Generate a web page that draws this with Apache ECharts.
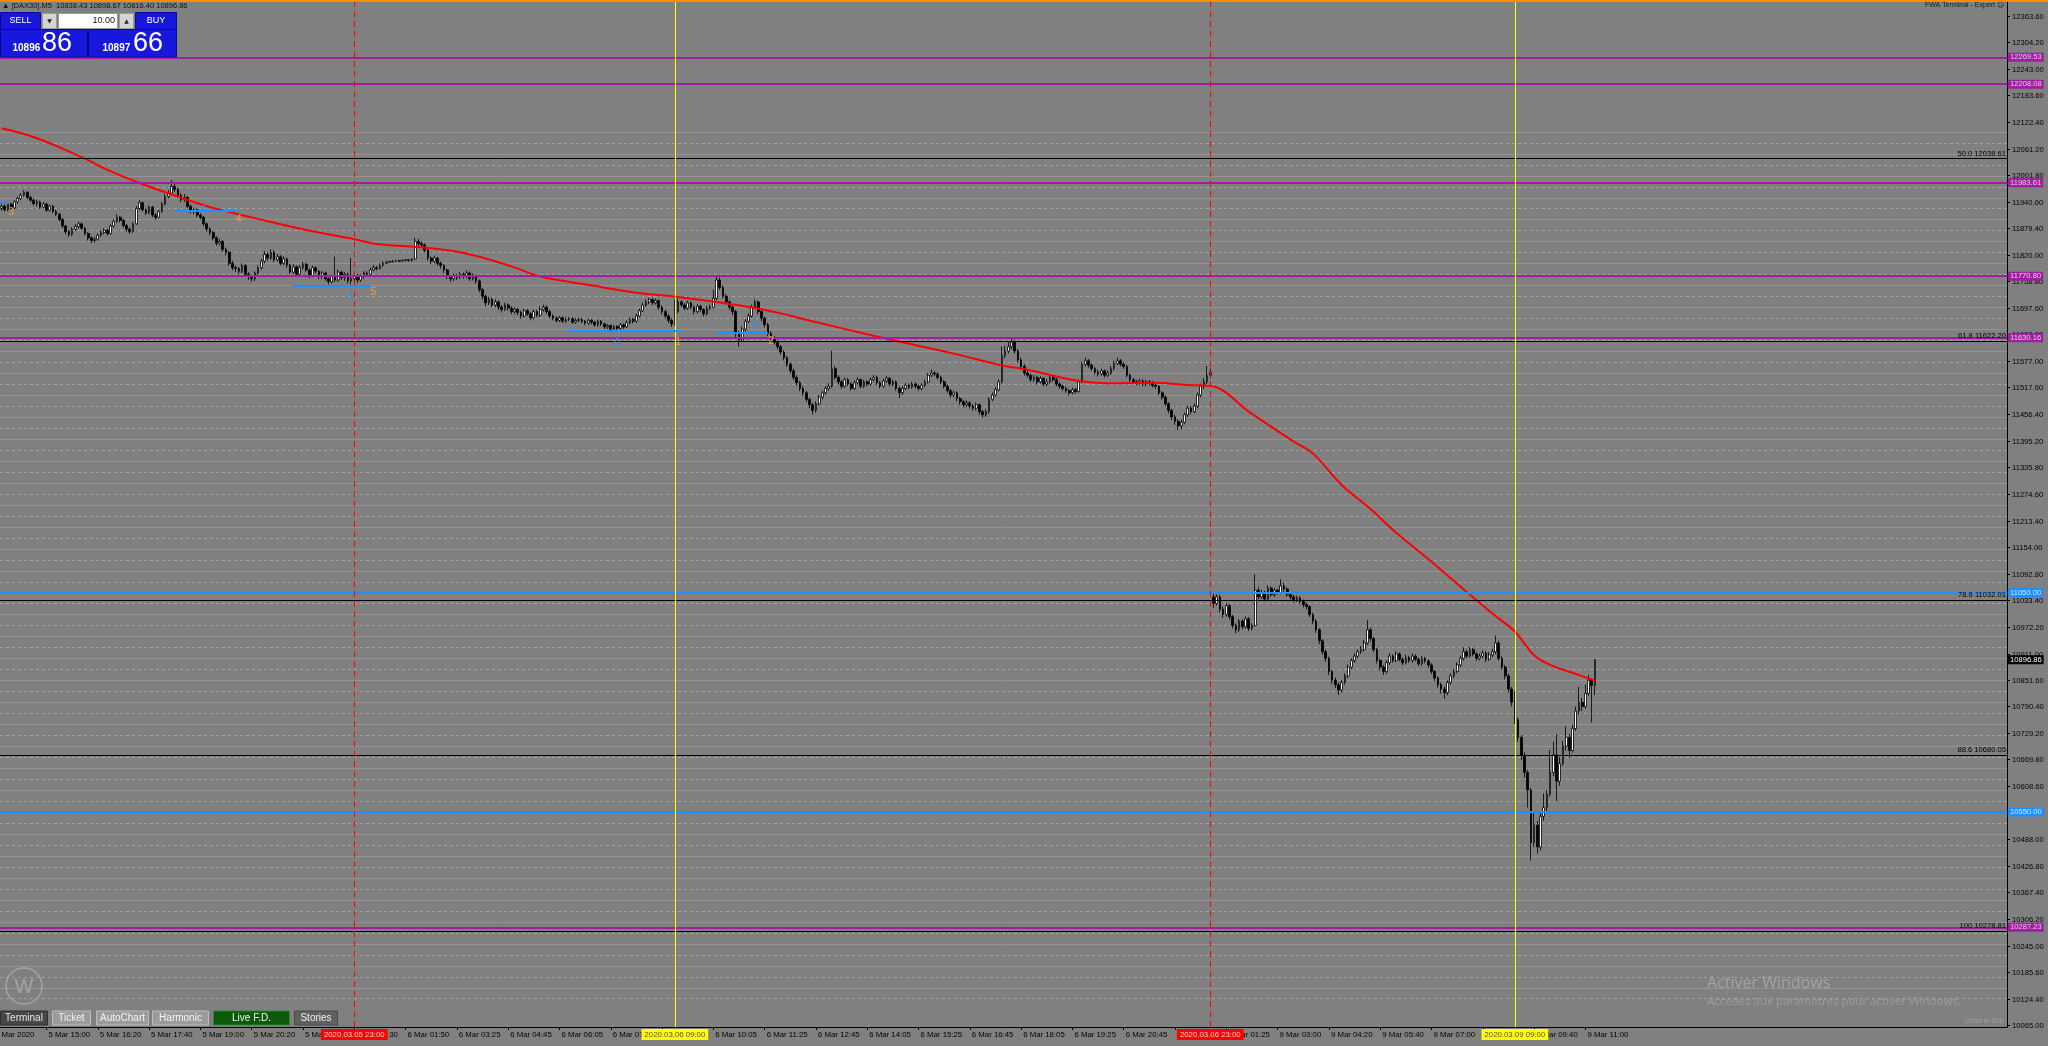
<!DOCTYPE html>
<html><head><meta charset="utf-8">
<style>html,body{margin:0;padding:0;background:#808080;overflow:hidden}#c{width:2048px;height:1046px}</style>
<script src="https://cdn.jsdelivr.net/npm/echarts/dist/echarts.min.js"></script>
</head><body><div id="c"></div><script>
// ---- DATA ----
const timeLabels = ["5 Mar 15:00","5 Mar 16:20","5 Mar 17:40","5 Mar 19:00","5 Mar 20:20","5 Mar 21:40","6 Mar 00:30","6 Mar 01:50","6 Mar 03:25","6 Mar 04:45","6 Mar 06:05","6 Mar 07:25","6 Mar 08:45","6 Mar 10:05","6 Mar 11:25","6 Mar 12:45","6 Mar 14:05","6 Mar 15:25","6 Mar 16:45","6 Mar 18:05","6 Mar 19:25","6 Mar 20:45","6 Mar 22:05","9 Mar 01:25","9 Mar 03:00","9 Mar 04:20","9 Mar 05:40","9 Mar 07:00","9 Mar 08:20","9 Mar 09:40","9 Mar 11:00"];
const priceTicks = [12363.60,12304.20,12243.00,12183.60,12122.40,12061.20,12001.80,11940.60,11879.40,11820.00,11758.80,11697.60,11638.20,11577.00,11517.60,11456.40,11395.20,11335.80,11274.60,11213.40,11154.00,11092.80,11033.40,10972.20,10911.00,10851.60,10790.40,10729.20,10669.80,10608.60,10549.20,10488.00,10426.80,10367.40,10306.20,10245.00,10185.60,10124.40,10065.00];
const opens = [11925,11930,11922,11935,11926,11940,11948,11955,11962,11950,
11944,11936,11940,11928,11935,11921,11930,11918,11912,11900,
11885,11872,11866,11878,11884,11890,11880,11868,11858,11852,
11855,11864,11870,11875,11868,11885,11896,11905,11898,11886,
11878,11872,11890,11925,11938,11922,11915,11928,11910,11905,
11918,11935,11952,11960,11975,11968,11955,11945,11950,11930,
11918,11922,11910,11905,11890,11878,11870,11858,11846,11850,
11832,11825,11800,11790,11788,11782,11795,11775,11770,11765,
11778,11790,11805,11820,11812,11825,11808,11815,11800,11810,
11796,11780,11792,11775,11790,11798,11785,11772,11790,11782,
11770,11778,11765,11758,11770,11762,11780,11768,11775,11760,
11765,11772,11762,11770,11778,11775,11785,11790,11788,11795,
11800,11803,11804,11805,11806,11805,11807,11808,11806,11810,
11850,11845,11842,11830,11812,11805,11812,11800,11795,11785,
11770,11765,11772,11768,11775,11770,11778,11765,11772,11760,
11740,11725,11710,11718,11705,11712,11700,11695,11705,11698,
11690,11695,11688,11680,11692,11685,11676,11690,11682,11695,
11700,11690,11680,11675,11670,11676,11668,11672,11674,11666,
11670,11672,11668,11664,11670,11666,11660,11668,11662,11655,
11658,11650,11656,11652,11660,11655,11665,11672,11668,11680,
11692,11705,11712,11718,11710,11715,11700,11690,11680,11670,
11662,11690,11712,11705,11698,11710,11700,11690,11702,11695,
11685,11698,11700,11720,11762,11745,11725,11712,11700,11690,
11640,11625,11650,11668,11680,11700,11712,11690,11675,11660,
11640,11630,11620,11610,11598,11585,11570,11555,11540,11528,
11515,11505,11490,11478,11465,11480,11495,11505,11515,11520,
11560,11540,11530,11520,11535,11525,11515,11528,11535,11520,
11530,11525,11535,11540,11528,11520,11532,11538,11525,11530,
11515,11505,11515,11522,11518,11525,11520,11515,11522,11530,
11545,11550,11548,11540,11530,11520,11510,11500,11505,11492,
11485,11478,11482,11475,11470,11478,11462,11455,11462,11490,
11500,11512,11530,11590,11600,11610,11620,11600,11580,11565,
11550,11545,11535,11540,11530,11538,11525,11530,11540,11535,
11525,11520,11515,11510,11505,11512,11508,11530,11570,11578,
11568,11560,11552,11548,11555,11545,11550,11560,11572,11578,
11570,11565,11545,11535,11530,11528,11532,11525,11530,11528,
11522,11520,11505,11495,11480,11465,11450,11440,11430,11438,
11455,11470,11462,11475,11500,11520,11530,11545,11040,11025,
11040,11012,11000,11020,10995,10975,10965,10985,10972,10990,
10968,10975,11055,11040,11050,11035,11060,11045,11055,11050,
11065,11058,11045,11040,11032,11038,11030,11022,11018,11000,
10985,10965,10940,10915,10900,10870,10850,10840,10828,10845,
10860,10880,10895,10905,10915,10920,10935,10965,10945,10920,
10895,10880,10870,10890,10905,10895,10910,10898,10890,10902,
10895,10905,10898,10888,10900,10894,10885,10870,10855,10840,
10830,10822,10845,10860,10870,10885,10900,10915,10905,10920,
10910,10900,10905,10912,10898,10908,10915,10935,10900,10880,
10860,10830,10800,10760,10720,10680,10640,10600,10480,10520,
10470,10540,10560,10590,10640,10680,10620,10660,10700,10720,
10690,10740,10780,10800,10790,10820,10850,10838.43];
const closes = [11930,11922,11935,11926,11940,11948,11955,11962,11950,11944,
11936,11940,11928,11935,11921,11930,11918,11912,11900,11885,
11872,11866,11878,11884,11890,11880,11868,11858,11852,11855,
11864,11870,11875,11868,11885,11896,11905,11898,11886,11878,
11872,11890,11925,11938,11922,11915,11928,11910,11905,11918,
11935,11952,11960,11975,11968,11955,11945,11950,11930,11918,
11922,11910,11905,11890,11878,11870,11858,11846,11850,11832,
11825,11800,11790,11788,11782,11795,11775,11770,11765,11778,
11790,11805,11820,11812,11825,11808,11815,11800,11810,11796,
11780,11792,11775,11790,11798,11785,11772,11790,11782,11770,
11778,11765,11758,11770,11762,11780,11768,11775,11760,11765,
11772,11762,11770,11778,11775,11785,11790,11788,11795,11800,
11803,11804,11805,11806,11805,11807,11808,11806,11810,11850,
11845,11842,11830,11812,11805,11812,11800,11795,11785,11770,
11765,11772,11768,11775,11770,11778,11765,11772,11760,11740,
11725,11710,11718,11705,11712,11700,11695,11705,11698,11690,
11695,11688,11680,11692,11685,11676,11690,11682,11695,11700,
11690,11680,11675,11670,11676,11668,11672,11674,11666,11670,
11672,11668,11664,11670,11666,11660,11668,11662,11655,11658,
11650,11656,11652,11660,11655,11665,11672,11668,11680,11692,
11705,11712,11718,11710,11715,11700,11690,11680,11670,11662,
11690,11712,11705,11698,11710,11700,11690,11702,11695,11685,
11698,11700,11720,11762,11745,11725,11712,11700,11690,11640,
11625,11650,11668,11680,11700,11712,11690,11675,11660,11640,
11630,11620,11610,11598,11585,11570,11555,11540,11528,11515,
11505,11490,11478,11465,11480,11495,11505,11515,11520,11560,
11540,11530,11520,11535,11525,11515,11528,11535,11520,11530,
11525,11535,11540,11528,11520,11532,11538,11525,11530,11515,
11505,11515,11522,11518,11525,11520,11515,11522,11530,11545,
11550,11548,11540,11530,11520,11510,11500,11505,11492,11485,
11478,11482,11475,11470,11478,11462,11455,11462,11490,11500,
11512,11530,11590,11600,11610,11620,11600,11580,11565,11550,
11545,11535,11540,11530,11538,11525,11530,11540,11535,11525,
11520,11515,11510,11505,11512,11508,11530,11570,11578,11568,
11560,11552,11548,11555,11545,11550,11560,11572,11578,11570,
11565,11545,11535,11530,11528,11532,11525,11530,11528,11522,
11520,11505,11495,11480,11465,11450,11440,11430,11438,11455,
11470,11462,11475,11500,11520,11530,11545,11552,11025,11040,
11012,11000,11020,10995,10975,10965,10985,10972,10990,10968,
10975,11055,11040,11050,11035,11060,11045,11055,11050,11065,
11058,11045,11040,11032,11038,11030,11022,11018,11000,10985,
10965,10940,10915,10900,10870,10850,10840,10828,10845,10860,
10880,10895,10905,10915,10920,10935,10965,10945,10920,10895,
10880,10870,10890,10905,10895,10910,10898,10890,10902,10895,
10905,10898,10888,10900,10894,10885,10870,10855,10840,10830,
10822,10845,10860,10870,10885,10900,10915,10905,10920,10910,
10900,10905,10912,10898,10908,10915,10935,10900,10880,10860,
10830,10800,10760,10720,10680,10640,10600,10480,10520,10470,
10540,10560,10590,10640,10680,10620,10660,10700,10720,10690,
10740,10780,10800,10790,10820,10850,10838,10896.86];
const highs = [11936,11934,11940,11938,11944,11952,11960,11966,11964,11954,
11948,11945,11943,11940,11938,11934,11933,11922,11915,11903,
11888,11876,11882,11889,11895,11893,11883,11871,11862,11860,
11868,11875,11880,11879,11889,11900,11912,11908,11901,11890,
11882,11894,11930,11944,11941,11926,11932,11931,11914,11922,
11940,11958,11967,11990,11985,11972,11960,11958,11953,11934,
11927,11925,11914,11908,11893,11882,11874,11862,11856,11853,
11836,11828,11806,11795,11792,11800,11798,11780,11774,11782,
11795,11810,11828,11825,11832,11829,11822,11819,11816,11813,
11799,11798,11795,11796,11803,11801,11788,11795,11793,11785,
11783,11781,11768,11775,11815,11786,11783,11780,11779,11812,
11778,11776,11775,11782,11782,11790,11796,11794,11800,11805,
11806,11806,11807,11808,11808,11809,11810,11810,11812,11858,
11856,11850,11846,11834,11816,11818,11815,11804,11798,11788,
11774,11777,11776,11780,11779,11784,11781,11777,11775,11763,
11744,11729,11724,11722,11718,11716,11705,11710,11709,11702,
11700,11699,11692,11697,11696,11689,11695,11694,11702,11706,
11704,11694,11684,11679,11680,11679,11677,11678,11677,11675,
11676,11676,11671,11674,11673,11669,11672,11671,11665,11662,
11661,11660,11659,11664,11663,11670,11677,11676,11685,11697,
11711,11718,11722,11721,11720,11718,11704,11694,11684,11675,
11718,11720,11716,11709,11715,11713,11704,11707,11706,11698,
11703,11706,11740,11772,11768,11750,11730,11716,11704,11694,
11645,11656,11673,11686,11706,11718,11716,11694,11679,11664,
11645,11634,11625,11614,11602,11589,11574,11560,11545,11532,
11520,11509,11494,11482,11486,11500,11510,11520,11527,11601,
11566,11545,11534,11540,11539,11529,11533,11540,11538,11535,
11534,11540,11546,11544,11532,11537,11544,11541,11535,11533,
11519,11520,11527,11526,11530,11529,11524,11527,11535,11550,
11558,11555,11552,11544,11534,11524,11514,11510,11508,11496,
11489,11488,11486,11479,11483,11481,11466,11468,11495,11506,
11518,11536,11610,11612,11620,11632,11625,11605,11585,11570,
11556,11549,11546,11544,11543,11541,11536,11546,11545,11539,
11529,11524,11519,11514,11517,11516,11535,11576,11585,11582,
11572,11564,11557,11560,11558,11556,11566,11578,11585,11582,
11575,11568,11549,11539,11534,11537,11536,11535,11534,11532,
11526,11523,11509,11499,11484,11469,11455,11445,11444,11460,
11476,11475,11481,11506,11526,11538,11566,11560,11048,11046,
11045,11018,11026,11024,10999,10980,10990,10989,10995,10994,
10980,11092,11062,11056,11054,11066,11064,11060,11059,11080,
11072,11062,11050,11044,11043,11042,11034,11027,11021,11004,
10989,10969,10944,10920,10904,10874,10856,10845,10851,10866,
10886,10900,10911,10920,10928,10942,10988,10970,10949,10924,
10899,10885,10896,10912,10909,10916,10914,10902,10908,10906,
10911,10909,10902,10906,10904,10898,10889,10874,10859,10845,
10836,10850,10866,10876,10891,10906,10925,10920,10926,10924,
10914,10911,10918,10916,10914,10922,10952,10940,10905,10885,
10865,10835,10826,10765,10725,10686,10645,10605,10548,10530,
10552,10592,10600,10691,10710,10727,10675,10712,10745,10728,
10748,10790,10835,10810,10840,10862,10855,10898.67];
const lows = [11920,11918,11919,11922,11924,11936,11944,11952,11946,11940,
11932,11930,11924,11925,11917,11918,11914,11908,11896,11880,
11866,11860,11862,11874,11880,11876,11864,11852,11846,11847,
11851,11860,11866,11863,11865,11881,11892,11893,11882,11872,
11867,11869,11888,11921,11918,11910,11912,11905,11899,11902,
11915,11932,11948,11956,11962,11950,11940,11940,11925,11914,
11912,11905,11900,11885,11872,11864,11852,11840,11841,11826,
11818,11794,11784,11780,11776,11778,11770,11762,11758,11760,
11774,11786,11800,11806,11808,11803,11804,11795,11796,11790,
11775,11776,11770,11771,11786,11780,11766,11768,11777,11764,
11765,11760,11752,11754,11757,11758,11762,11760,11754,11752,
11758,11755,11758,11765,11770,11772,11782,11784,11786,11792,
11798,11801,11802,11803,11803,11804,11805,11804,11804,11808,
11840,11836,11825,11806,11798,11800,11795,11788,11778,11764,
11758,11760,11762,11764,11765,11766,11760,11761,11754,11734,
11718,11702,11705,11700,11700,11694,11688,11691,11692,11684,
11685,11682,11674,11676,11680,11670,11672,11677,11678,11690,
11685,11675,11670,11665,11666,11664,11664,11668,11662,11662,
11666,11664,11659,11660,11661,11655,11656,11657,11650,11650,
11645,11646,11647,11648,11650,11652,11661,11663,11665,11677,
11689,11701,11707,11704,11706,11694,11684,11674,11664,11655,
11658,11686,11700,11693,11694,11695,11684,11686,11689,11679,
11681,11693,11697,11716,11740,11720,11706,11694,11682,11630,
11610,11620,11645,11664,11676,11696,11684,11668,11654,11634,
11624,11614,11604,11592,11579,11564,11549,11534,11522,11509,
11498,11484,11470,11456,11460,11476,11490,11500,11510,11516,
11535,11524,11514,11516,11520,11510,11511,11524,11515,11516,
11520,11521,11531,11523,11515,11516,11528,11520,11520,11510,
11493,11500,11511,11513,11514,11515,11510,11511,11518,11526,
11541,11543,11535,11525,11515,11505,11494,11495,11486,11478,
11472,11472,11469,11464,11465,11455,11448,11450,11458,11486,
11496,11508,11526,11584,11595,11604,11594,11574,11558,11544,
11540,11530,11530,11524,11526,11520,11520,11526,11530,11520,
11514,11510,11505,11499,11501,11503,11505,11527,11565,11562,
11555,11547,11542,11544,11540,11541,11546,11556,11568,11565,
11560,11540,11530,11525,11522,11523,11520,11520,11522,11517,
11514,11500,11489,11474,11458,11443,11432,11420,11422,11433,
11450,11456,11458,11470,11495,11514,11525,11538,11015,11020,
11005,10992,10995,10988,10968,10957,10960,10966,10968,10962,
10963,10972,11034,11035,11030,11031,11040,11040,11045,11046,
11052,11040,11034,11027,11028,11024,11016,11012,10994,10978,
10958,10932,10908,10892,10862,10842,10832,10817,10822,10840,
10855,10875,10890,10900,10910,10915,10930,10938,10914,10888,
10872,10862,10865,10885,10890,10891,10893,10884,10886,10890,
10890,10893,10882,10884,10889,10879,10864,10848,10833,10820,
10808,10816,10840,10855,10866,10880,10895,10900,10901,10905,
10894,10895,10900,10892,10894,10903,10910,10895,10874,10852,
10822,10790,10750,10710,10668,10628,10560,10439,10470,10455,
10462,10530,10552,10585,10632,10574,10610,10655,10690,10673,
10685,10735,10772,10780,10785,10815,10754,10816.40];
// moving average, read at sample bars: [bar index, value]
const maPoints = [[0,12108],[10,12088],[20,12058],[27,12035],[33,12013],[43,11983],[55,11952],[66,11926],[79,11903],[95,11876],[110,11855],[117,11844],[130,11837],[140,11829],[149,11815],[159,11793],[168,11770],[183,11751],[198,11733],[210,11724],[222,11713],[235,11698],[243,11686],[249,11675],[276,11628],[296,11596],[311,11569],[321,11556],[335,11533],[345,11527],[360,11528],[370,11523],[377,11521],[390,11457],[403,11394],[409,11367],[418,11295],[427,11240],[435,11186],[447,11114],[457,11051],[465,11002],[472,10961],[478,10907],[483,10885],[490,10867],[497,10849]];
const purpleLevels = [12269.53,12208.08,11983.61,11770.80,11630.16,10287.23];
const blueLevels = [11050.00,10550.00];
const fibLevels = [["50.0",12038.61],["61.8",11622.20],["78.6",11032.01],["88.6",10680.05],["100",10278.81]];
const lastPrice = 10896.86;
const redVLines = [[110,"2020.03.05 23:00"],[377,"2020.03.06 23:00"]];
const yellowVLines = [[210,"2020.03.06 09:00"],[472,"2020.03.09 09:00"]];
const patternSegs = [[0,2,11937],[54,74,11920],[91,115,11749],[176,212,11647],[223,239,11642]];
const patternTexts = [[3,11917,"3","o"],[63,11920,"0","b"],[74,11901,"4","o"],[109,11726,"1","b"],[116,11735,"5","o"],[192,11617,"0","b"],[211,11621,"1","o"],[235,11656,"0","b"],[240,11622,"2","o"]];
const gridFrom = 10125, gridTo = 12100, gridStep = 25;

// ---- STYLE / LAYOUT ----
const F = '"Liberation Sans", Arial, sans-serif';
const PURPLE = '#a01ea0', BLUE = '#1e90ff', ORANGE = '#ff9a2e';
const GRID_SOLID = '#949494', GRID_DASH = '#a2a2a2';
const N_CATS = 626, TICK0 = 14, TICKSTEP = 16;
const cats = Array.from({length: N_CATS}, (_, i) => i);
function tickIdx(i){ if (i < TICK0 || (i - TICK0) % TICKSTEP) return -1; const k = (i - TICK0) / TICKSTEP; return k < timeLabels.length ? k : -1; }

const candleData = closes.map((c, i) => {
  const o = opens[i];
  return [o, c, Math.min(lows[i], o, c), Math.max(highs[i], o, c)];
});
const gridLevels = [];
for (let v = gridFrom; v <= gridTo; v += gridStep) gridLevels.push([0, v]);

const mlData = [];
purpleLevels.forEach(v => mlData.push({yAxis: v, lineStyle: {color: PURPLE, width: 2, type: 'solid'},
  label: {show: true, position: 'end', distance: 1, formatter: v.toFixed(2), backgroundColor: PURPLE, color: '#f0c4f0', padding: [1, 2, 0, 2], fontSize: 7.6, fontFamily: F}}));
blueLevels.forEach(v => mlData.push({yAxis: v, lineStyle: {color: BLUE, width: 2, type: 'solid'},
  label: {show: true, position: 'end', distance: 1, formatter: v.toFixed(2), backgroundColor: BLUE, color: '#cfe8ff', padding: [1, 2, 0, 2], fontSize: 7.6, fontFamily: F}}));
fibLevels.forEach(([n, v]) => mlData.push({yAxis: v, lineStyle: {color: '#000', width: 1, type: 'solid'},
  label: {show: true, position: 'insideEndTop', distance: 1, formatter: n + ' ' + v.toFixed(2), color: '#000', fontSize: 7.6, fontFamily: F}}));
mlData.push({yAxis: lastPrice, lineStyle: {color: 'rgba(0,0,0,0)', width: 0},
  label: {show: true, position: 'end', distance: 1, formatter: lastPrice.toFixed(2), backgroundColor: '#000', color: '#fff', padding: [1, 2, 0, 2], fontSize: 7.6, fontFamily: F}});
redVLines.forEach(([i, t]) => mlData.push({xAxis: i, lineStyle: {color: '#ff0000', width: 1, type: [6, 4]},
  label: {show: true, position: 'start', distance: 2, formatter: t, backgroundColor: '#ff0000', color: '#ffd6d6', padding: [2, 3, 1, 3], fontSize: 7.8, fontFamily: F}}));
yellowVLines.forEach(([i, t]) => mlData.push({xAxis: i, lineStyle: {color: '#ffff00', width: 1, type: 'solid'},
  label: {show: true, position: 'start', distance: 2, formatter: t, backgroundColor: '#ffff00', color: '#505050', padding: [2, 3, 1, 3], fontSize: 7.8, fontFamily: F}}));
patternSegs.forEach(([a, b, p]) => mlData.push([
  {coord: [a, p], lineStyle: {color: BLUE, width: 2, type: 'solid'}, label: {show: false}},
  {coord: [b, p], lineStyle: {color: BLUE, width: 2, type: 'solid'}, label: {show: false}}]));

const mpData = patternTexts.map(([i, p, t, c]) => ({coord: [i, p], value: t, symbolSize: 0,
  label: {show: true, position: 'inside', formatter: t, color: c === 'o' ? ORANGE : BLUE, fontSize: 10, fontFamily: F}}));

const tab = (x, w, label, fill, stroke, color) => [
  {type: 'rect', z: 100, shape: {x: x, y: 1011, width: w, height: 14}, style: {fill: fill, stroke: stroke, lineWidth: 1}},
  {type: 'text', z: 101, x: x + w / 2, y: 1018.5, style: {text: label, fill: color, font: '10px ' + F, align: 'center', verticalAlign: 'middle'}}];

const PB = '#1818dc', PBD = '#0a0a8c';
const graphics = [
  {type: 'rect', z: 100, shape: {x: 0, y: 0, width: 2048, height: 2}, style: {fill: '#ff8c00'}},
  {type: 'text', z: 100, x: 2, y: 5.5, style: {text: '▲ [DAX30].M5  10838.43 10898.67 10816.40 10896.86', fill: '#111', font: '7.5px ' + F, verticalAlign: 'middle'}},
  {type: 'text', z: 100, x: 2004, y: 5, style: {text: 'FWA Terminal - Expert ☹', fill: '#1a1a1a', font: '7px ' + F, align: 'right', verticalAlign: 'middle'}},
  {type: 'rect', z: 100, shape: {x: 0.5, y: 12.5, width: 40, height: 17}, style: {fill: PB, stroke: PBD}},
  {type: 'text', z: 101, x: 20.5, y: 21, style: {text: 'SELL', fill: '#fff', font: '9px ' + F, align: 'center', verticalAlign: 'middle'}},
  {type: 'rect', z: 100, shape: {x: 42.5, y: 13.5, width: 14, height: 15}, style: {fill: '#d4d4d4', stroke: '#9a9a9a'}},
  {type: 'text', z: 101, x: 49.5, y: 21, style: {text: '▼', fill: '#222', font: '6px "DejaVu Sans"', align: 'center', verticalAlign: 'middle'}},
  {type: 'rect', z: 100, shape: {x: 58.5, y: 13.5, width: 59, height: 15}, style: {fill: '#ffffff', stroke: '#9a9a9a'}},
  {type: 'text', z: 101, x: 115, y: 21, style: {text: '10.00', fill: '#111', font: '9px ' + F, align: 'right', verticalAlign: 'middle'}},
  {type: 'rect', z: 100, shape: {x: 119.5, y: 13.5, width: 14, height: 15}, style: {fill: '#d4d4d4', stroke: '#9a9a9a'}},
  {type: 'text', z: 101, x: 126.5, y: 21, style: {text: '▲', fill: '#222', font: '6px "DejaVu Sans"', align: 'center', verticalAlign: 'middle'}},
  {type: 'rect', z: 100, shape: {x: 135.5, y: 12.5, width: 41, height: 17}, style: {fill: PB, stroke: PBD}},
  {type: 'text', z: 101, x: 156, y: 21, style: {text: 'BUY', fill: '#fff', font: '9px ' + F, align: 'center', verticalAlign: 'middle'}},
  {type: 'rect', z: 100, shape: {x: 0.5, y: 29.5, width: 87, height: 27.5}, style: {fill: PB, stroke: PBD}},
  {type: 'rect', z: 100, shape: {x: 88.5, y: 29.5, width: 88, height: 27.5}, style: {fill: PB, stroke: PBD}},
  {type: 'text', z: 101, x: 12.5, y: 48.5, style: {text: '10896', fill: '#fff', font: 'bold 10px ' + F, verticalAlign: 'middle'}},
  {type: 'text', z: 101, x: 42, y: 43.5, style: {text: '86', fill: '#fff', font: '27px ' + F, verticalAlign: 'middle'}},
  {type: 'text', z: 101, x: 102.5, y: 48.5, style: {text: '10897', fill: '#fff', font: 'bold 10px ' + F, verticalAlign: 'middle'}},
  {type: 'text', z: 101, x: 133, y: 43.5, style: {text: '66', fill: '#fff', font: '27px ' + F, verticalAlign: 'middle'}},
  ...tab(0.5, 47, 'Terminal', '#474747', '#2e2e2e', '#e6e6e6'),
  ...tab(52.5, 38, 'Ticket', '#9b9b9b', '#bdbdbd', '#f4f4f4'),
  ...tab(96.5, 52, 'AutoChart', '#9b9b9b', '#bdbdbd', '#f4f4f4'),
  ...tab(152.5, 56, 'Harmonic', '#9b9b9b', '#bdbdbd', '#f4f4f4'),
  ...tab(213.5, 76, 'Live F.D.', '#0b5a0b', '#2d8a2d', '#f4f4f4'),
  ...tab(294.5, 43, 'Stories', '#606060', '#4a4a4a', '#f0f0f0'),
  {type: 'circle', z: 100, shape: {cx: 24, cy: 986, r: 18}, style: {fill: 'none', stroke: '#a4a4a4', lineWidth: 1.5}},
  {type: 'text', z: 100, x: 24, y: 987, style: {text: 'W', fill: '#a4a4a4', font: '20px ' + F, align: 'center', verticalAlign: 'middle'}},
  {type: 'text', z: 100, x: 1707, y: 983, style: {text: 'Activer Windows', fill: '#a3a3a3', font: '16px "Open Sans", ' + F, verticalAlign: 'middle'}},
  {type: 'text', z: 100, x: 1707, y: 1002, style: {text: 'Accédez aux paramètres pour activer Windows.', fill: '#9c9c9c', font: '11.5px "Open Sans", ' + F, verticalAlign: 'middle'}},
  {type: 'text', z: 100, x: 2003, y: 1021, style: {text: 'Close in 52s', fill: '#a0a0a0', font: '7px ' + F, align: 'right', verticalAlign: 'middle'}},
  {type: 'text', z: 50, x: -5, y: 1035, style: {text: '5 Mar 2020', fill: '#000', font: '7.8px ' + F, verticalAlign: 'middle'}}
];

const chart = echarts.init(document.getElementById('c'), null, {renderer: 'canvas'});
chart.setOption({
  animation: false,
  backgroundColor: '#808080',
  grid: {left: 0, right: 41, top: 0, bottom: 19, containLabel: false, outerBoundsMode: 'none'},
  xAxis: {type: 'category', data: cats, boundaryGap: true,
    axisLine: {show: true, onZero: false, lineStyle: {color: '#000', width: 1}},
    axisTick: {show: true, alignWithLabel: true, interval: (i) => tickIdx(i) >= 0, length: 3, lineStyle: {color: '#000'}},
    axisLabel: {show: true, interval: (i) => tickIdx(i) >= 0, formatter: (v, i) => { const k = tickIdx(i); return k >= 0 ? timeLabels[k] : ''; },
      align: 'left', color: '#000', fontSize: 7.8, fontFamily: F, margin: 4, padding: [0, 0, 0, 2], hideOverlap: false},
    splitLine: {show: false}},
  yAxis: {type: 'value', position: 'right', min: 10060, max: 12400,
    axisLine: {show: true, lineStyle: {color: '#000'}}, axisTick: {show: false}, axisLabel: {show: false}, splitLine: {show: false}},
  graphic: graphics,
  series: [
    {type: 'custom', name: 'grid', z: 1, silent: true, clip: false, data: gridLevels, encode: {x: 0, y: 1},
      renderItem: (params, api) => {
        const v = api.value(1); const cs = params.coordSys;
        const y = Math.round(api.coord([0, v])[1]) + 0.5;
        const solid = v % 50 === 0;
        return {type: 'line', shape: {x1: cs.x, y1: y, x2: cs.x + cs.width, y2: y},
          style: {stroke: solid ? GRID_SOLID : GRID_DASH, lineWidth: 1, lineDash: solid ? 'solid' : [3, 3]}};
      }},
    {type: 'custom', name: 'ticks', z: 1, silent: true, clip: false, data: priceTicks.map(v => [0, v]), encode: {x: 0, y: 1},
      renderItem: (params, api) => {
        const v = api.value(1); const cs = params.coordSys;
        const y = Math.round(api.coord([0, v])[1]) + 0.5; const x = cs.x + cs.width;
        return {type: 'group', children: [
          {type: 'line', shape: {x1: x, y1: y, x2: x + 3, y2: y}, style: {stroke: '#000', lineWidth: 1}},
          {type: 'text', x: x + 5, y: y, style: {text: v.toFixed(2), fill: '#000', font: '7.6px ' + F, align: 'left', verticalAlign: 'middle'}}]};
      }},
    {type: 'candlestick', name: 'DAX30', z: 2, data: candleData, barWidth: 2.2,
      itemStyle: {color: '#ffffff', color0: '#000000', borderColor: '#000000', borderColor0: '#000000', borderWidth: 0.8},
      markPoint: {silent: true, symbol: 'circle', symbolSize: 0, data: mpData}},
    {type: 'line', name: 'MA', z: 3, data: maPoints, smooth: 0.35, symbol: 'none', silent: true,
      lineStyle: {color: '#ff0000', width: 2},
      markLine: {silent: true, symbol: ['none', 'none'], animation: false, data: mlData}}
  ]
});
</script></body></html>
